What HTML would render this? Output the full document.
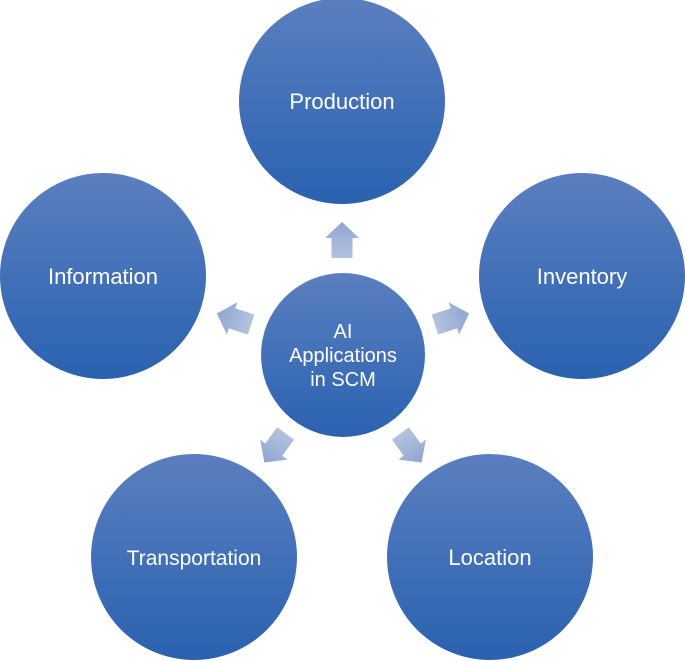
<!DOCTYPE html>
<html><head><meta charset="utf-8"><style>
html,body{margin:0;padding:0;background:#fff;}
svg{display:block;}
text{font-family:"Liberation Sans",sans-serif;fill:#fff;text-anchor:middle;}
</style></head><body>
<svg width="685" height="661" viewBox="0 0 685 661">
<defs>
<linearGradient id="g" x1="0" y1="0" x2="0" y2="1">
<stop offset="0" stop-color="#5b7fc0"/><stop offset="1" stop-color="#2a62b0"/>
</linearGradient>
<linearGradient id="a" x1="0" y1="0" x2="0" y2="1">
<stop offset="0" stop-color="#8fa6d2"/><stop offset="1" stop-color="#b4c2de"/>
</linearGradient>
<g id="arr"><polygon points="0,-18 17,-2 10.5,-2 10.5,18 -10.5,18 -10.5,-2 -17,-2" fill="url(#a)"/></g>
</defs>
<circle cx="342" cy="101" r="103" fill="url(#g)"/>
<circle cx="103" cy="276" r="103" fill="url(#g)"/>
<circle cx="582" cy="276" r="103" fill="url(#g)"/>
<circle cx="194" cy="557" r="103" fill="url(#g)"/>
<circle cx="490" cy="557" r="103" fill="url(#g)"/>
<circle cx="343" cy="355" r="82" fill="url(#g)"/>
<use href="#arr" transform="translate(342,240)"/>
<use href="#arr" transform="translate(452,319) rotate(72)"/>
<use href="#arr" transform="translate(411,448) rotate(144)"/>
<use href="#arr" transform="translate(275,448) rotate(-144)"/>
<use href="#arr" transform="translate(234,319) rotate(-72)"/>
<text x="342" y="109" font-size="22">Production</text>
<text x="103" y="284" font-size="22">Information</text>
<text x="582" y="284" font-size="22">Inventory</text>
<text x="194" y="565" font-size="21">Transportation</text>
<text x="490" y="565" font-size="22">Location</text>
<text x="343" y="338" font-size="20">AI</text>
<text x="343" y="362" font-size="20">Applications</text>
<text x="343" y="386" font-size="20">in SCM</text>
</svg>
</body></html>
